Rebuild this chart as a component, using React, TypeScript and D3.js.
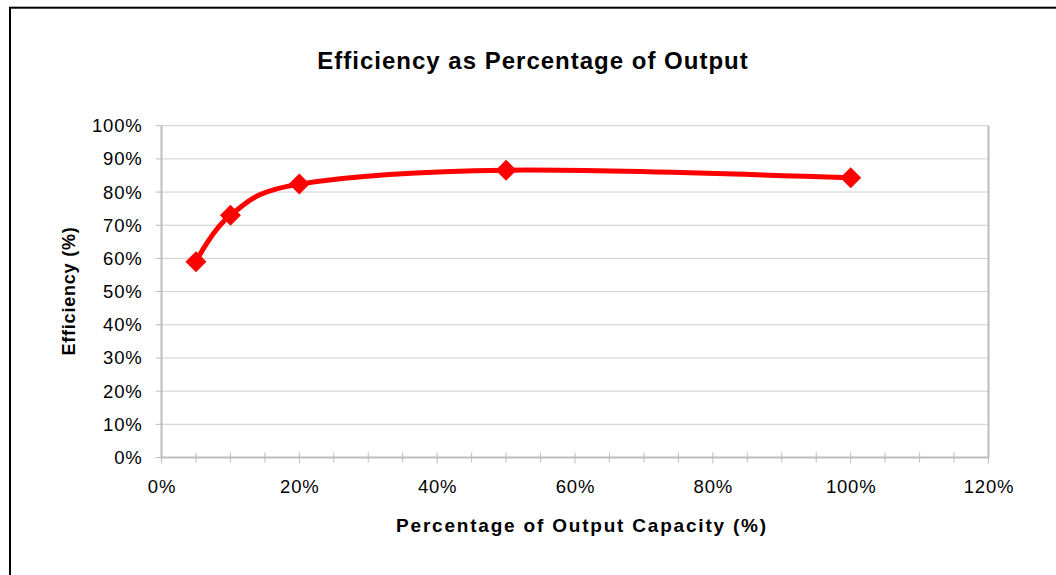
import React from 'react';
import * as d3 from 'd3';

const outputPct = [5, 10, 20, 50, 100];
const efficiency = [59, 73, 82.4, 86.6, 84.3];
const yTicks = [0, 10, 20, 30, 40, 50, 60, 70, 80, 90, 100];
const xMajorTicks = [0, 20, 40, 60, 80, 100, 120];
const xMinorTicks = d3.range(0, 121, 5);

const W = 1056, H = 575;
const left = 161.5, right = 988.5, top = 125.7, bottom = 457.5;

export default function App() {
  const x = d3.scaleLinear().domain([0, 120]).range([left, right]);
  const y = d3.scaleLinear().domain([0, 100]).range([bottom, top]);
  const pts: [number, number][] = outputPct.map((v, i) => [x(v), y(efficiency[i])]);
  const line = d3.line().curve(d3.curveCardinal.tension(0))(pts) || '';
  const font = 'Liberation Sans, Arial, sans-serif';
  const axisColor = '#bdbdbd';
  return (
    <svg width={W} height={H} style={{ position: 'absolute', left: 0, top: 0 }} fontFamily={font}>
      <rect x={0} y={0} width={W} height={H} fill="#fff" />
      <rect x={10} y={7.7} width={1200} height={800} fill="none" stroke="#000" strokeWidth={2} />
      <text x={533} y={69} textAnchor="middle" fontSize={24} fontWeight="bold" letterSpacing={1} fill="#000">
        Efficiency as Percentage of Output
      </text>
      {yTicks.slice(1).map(t => (
        <line key={'g' + t} x1={left} x2={right} y1={y(t)} y2={y(t)} stroke="#cfcfcf" strokeWidth={1} />
      ))}
      <line x1={right} x2={right} y1={top} y2={bottom} stroke={axisColor} strokeWidth={2} />
      <line x1={left} x2={left} y1={top} y2={bottom + 1} stroke={axisColor} strokeWidth={2} />
      {yTicks.map(t => (
        <g key={'y' + t}>
          <line x1={left - 6} x2={left} y1={y(t)} y2={y(t)} stroke={axisColor} strokeWidth={1} />
          <text x={left - 19} y={y(t) + 6.5} textAnchor="end" fontSize={18.5} letterSpacing={0.8} fill="#000">
            {t + '%'}
          </text>
        </g>
      ))}
      <line x1={left} x2={right} y1={bottom} y2={bottom} stroke={axisColor} strokeWidth={2} />
      {xMinorTicks.map(t => (
        <line key={'m' + t} x1={x(t)} x2={x(t)} y1={bottom - 5} y2={bottom + (t % 20 === 0 ? 6 : 5)} stroke={axisColor} strokeWidth={1} />
      ))}
      {xMajorTicks.map(t => (
        <text key={'x' + t} x={x(t) + 0.5} y={493} textAnchor="middle" fontSize={18.5} letterSpacing={0.8} fill="#000">
          {t + '%'}
        </text>
      ))}
      <text x={582} y={532} textAnchor="middle" fontSize={19} fontWeight="bold" letterSpacing={1.8} fill="#000">
        Percentage of Output Capacity (%)
      </text>
      <text transform={`translate(75,291) rotate(-90)`} textAnchor="middle" fontSize={18} fontWeight="bold" letterSpacing={0.8} fill="#000">
        Efficiency (%)
      </text>
      <path d={line} fill="none" stroke="#ff0000" strokeWidth={5} strokeLinejoin="round" />
      {pts.map(([px, py], i) => (
        <path key={'d' + i} d={`M${px},${py - 10.5}L${px + 10.5},${py}L${px},${py + 10.5}L${px - 10.5},${py}Z`} fill="#ff0000" />
      ))}
    </svg>
  );
}
